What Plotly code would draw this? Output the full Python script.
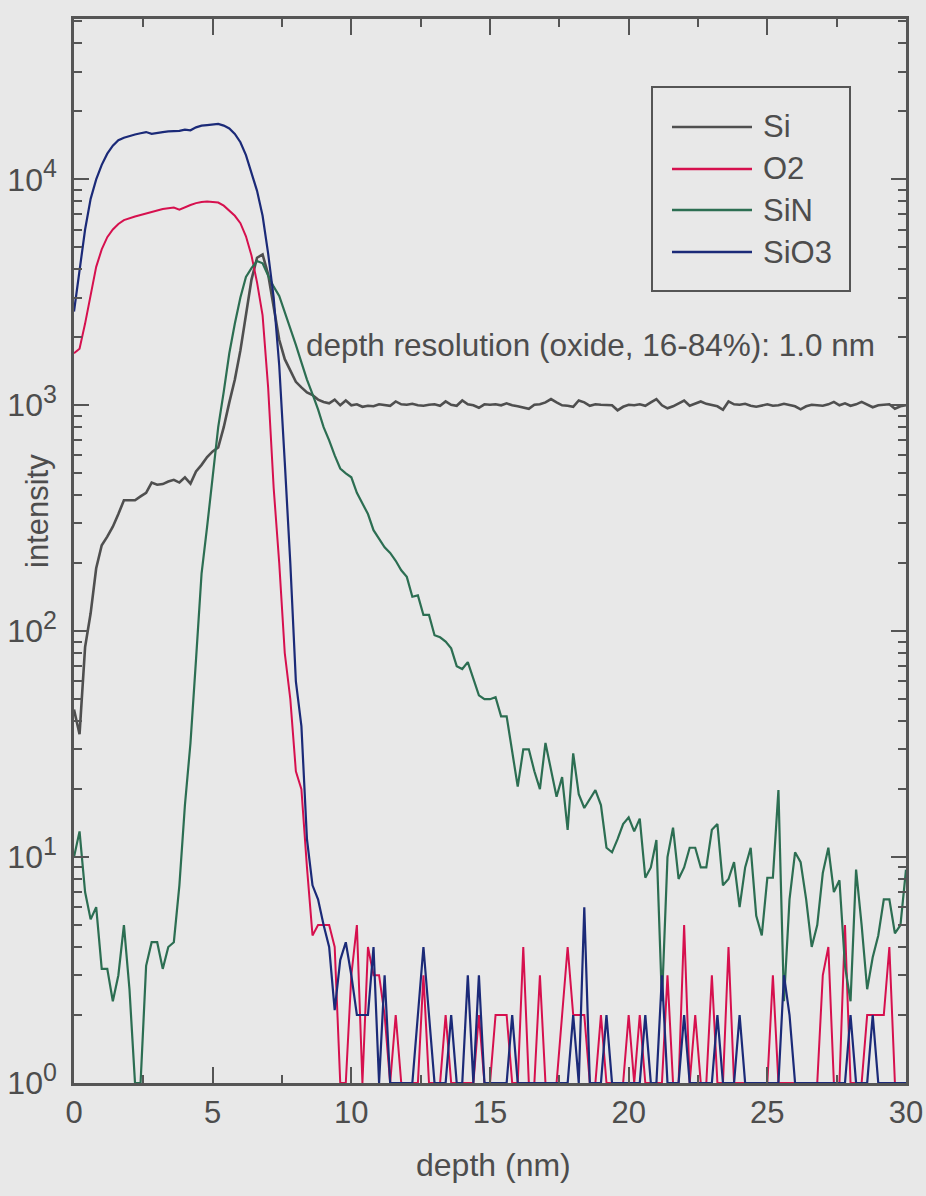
import plotly.graph_objects as go

# depth grid (nm), step 0.2
depth = [round(i * 0.2, 1) for i in range(151)]

si = [45, 35, 85, 120, 190, 240, 262, 290, 330, 380,
      380, 380, 395, 410, 455, 445, 448, 460, 468, 455,
      480, 450, 510, 545, 590, 625, 650, 800, 1030, 1300,
      1750, 2550, 3600, 4500, 4650, 3800, 2700, 1950, 1600, 1430,
      1270, 1200, 1140, 1110, 1060, 1035, 1020, 1060, 1000, 1050,
      1000, 1010, 985, 995, 990, 1010, 1000, 995, 1040, 1010,
      1005, 1015, 1000, 995, 1005, 1010, 995, 1040, 1005, 995,
      1050, 1010, 1000, 975, 1010, 1005, 1010, 1000, 1020, 1000,
      990, 975, 965, 1005, 1010, 1030, 1065, 1030, 1000, 995,
      985, 1050, 1030, 995, 1010, 1005, 1005, 1000, 950, 985,
      1005, 1000, 1010, 995, 1030, 1065, 1000, 970, 990, 1020,
      1050, 995, 1020, 1040, 1015, 1000, 990, 955, 1040, 1010,
      1005, 1015, 995, 985, 1000, 1010, 995, 1000, 1015, 1005,
      990, 960, 990, 1005, 1000, 995, 1010, 1035, 1000, 1020,
      995, 1010, 1035, 1005, 980, 1000, 1005, 1010, 965, 990,
      1000]

o2 = [1700, 1780, 2300, 3100, 4100, 4900, 5550, 6000, 6350, 6600,
      6750, 6850, 6950, 7050, 7200, 7300, 7400, 7450, 7500, 7350,
      7550, 7700, 7850, 7950, 7980, 7950, 7900, 7650, 7300, 6900,
      6400, 5600, 4600, 3500, 2500, 1200, 430, 200, 80, 50,
      24, 20, 9, 4.5, 5, 5, 5, 4, 1, 1,
      3, 5, 1, 4, 3, 3, 2, 1, 2, 1,
      1, 1, 1, 3, 1, 1, 1, 2, 1, 1,
      1, 1, 1, 2, 1, 1, 2, 2, 2, 1,
      1, 4, 1, 1, 3, 1, 1, 1, 2, 4,
      2, 2, 2, 1, 1, 2, 1, 1, 1, 1,
      2, 1, 2, 1, 1, 1, 1, 3, 1, 1,
      5, 1, 2, 1, 1, 3, 1, 1, 4, 1,
      1, 1, 1, 1, 1, 1, 3, 1, 1, 1,
      1, 1, 1, 1, 1, 3, 4, 1, 1, 5,
      1, 1, 1, 2, 2, 2, 2, 4, 1, 1,
      1]

sin = [10, 13, 7, 5.3, 6, 3.2, 3.2, 2.3, 3, 5,
       2.6, 1, 1, 3.3, 4.2, 4.2, 3.2, 4, 4.2, 7.5,
       17, 32, 75, 180, 290, 500, 800, 1150, 1700, 2300,
       3000, 3700, 4050, 4350, 4250, 3750, 3350, 3050, 2600, 2200,
       1850, 1550, 1300, 1120, 960, 800, 700, 600, 525, 500,
       480, 410, 370, 330, 280, 255, 235, 222, 205, 186,
       174, 142, 144, 118, 118, 96, 94, 90, 84, 70,
       68, 73, 62, 52, 50, 50, 51, 42, 42, 30,
       20.5, 30, 30, 24, 20, 32, 24, 18.5, 22.6, 13.2,
       28.8, 19, 16.5, 18, 19.8, 17, 11, 10.5, 12, 14,
       15, 13, 14.8, 8.1, 9, 11.9, 2.3, 10, 13.5, 8,
       9, 11, 11, 9, 9, 13.2, 14, 7.5, 8, 9.5,
       6, 9, 11, 5.5, 4.5, 8.1, 8.1, 19.8, 2.3, 6.5,
       10.5, 9.5, 6.5, 4, 5, 8.5, 11, 7, 7.9, 3.3,
       2.3, 8.8, 5, 2.6, 3.6, 4.5, 6.5, 6.5, 4.6, 5,
       8.8]

sio3 = [2600, 4000, 6000, 8200, 10000, 11600, 13000, 14100, 14900, 15300,
        15600, 15800, 16000, 16200, 15900, 16100, 16200, 16300, 16300, 16400,
        16600, 16500, 17000, 17300, 17400, 17500, 17600, 17300, 16800, 15900,
        14600, 12800, 10800, 8900, 6900, 4700, 3000, 1500, 560, 200,
        60, 38, 12, 7.5, 6.5, 5, 4, 2.1, 3.5, 4.2,
        3, 2, 2, 2, 4, 1, 3, 1, 1, 1,
        1, 1, 2, 4, 2, 1, 1, 1, 2, 1,
        1, 3, 1, 3, 1, 1, 1, 1, 1, 2,
        1, 1, 1, 1, 1, 1, 1, 1, 1, 1,
        2, 1, 6, 1, 1, 1, 2, 1, 1, 1,
        1, 1, 1, 2, 1, 1, 3, 1, 1, 1,
        2, 1, 1, 1, 1, 1, 2, 1, 1, 1,
        2, 1, 1, 1, 1, 1, 1, 1, 3, 2,
        1, 1, 1, 1, 1, 1, 1, 1, 1, 1,
        2, 1, 1, 1, 2, 1, 1, 1, 1, 1,
        1]

series_names = ["Si", "O2", "SiN", "SiO3"]
series_colors = ["#4f4f4f", "#d6104e", "#2c6e52", "#1b2a78"]
series_widths = [2.6, 2.0, 2.2, 2.2]
series_values = [si, o2, sin, sio3]

y_tick_vals = [1, 10, 100, 1000, 10000]
y_exponents = ["0", "1", "2", "3", "4"]
y_tick_text = ["10<sup><span style='font-size:25px'>%s</span></sup>" % e
               for e in y_exponents]
x_tick_vals = [0, 5, 10, 15, 20, 25, 30]

FONT = "Liberation Sans, Arial, sans-serif"
TXT = "#4d4d4d"
AX = "#555555"
BG = "#e8e8e8"

fig = go.Figure()
for name, col, w, vals in zip(series_names, series_colors, series_widths, series_values):
    fig.add_trace(go.Scatter(x=depth, y=vals, mode="lines", name=name,
                             line=dict(color=col, width=w), showlegend=False))

# plot area in pixels
L, R, T, B = 74, 906, 19, 1083
W, H = 926, 1196


def px(x):
    return (x - L) / (R - L)


def py(y):
    return (B - y) / (B - T)


# custom legend
shapes = [dict(type="rect", xref="paper", yref="paper",
               x0=px(652), x1=px(850), y0=py(291), y1=py(87),
               line=dict(color=AX, width=2), fillcolor="rgba(0,0,0,0)")]
annotations = []
leg_rows = [127, 169, 210, 252]
for name, col, yy in zip(series_names, series_colors, leg_rows):
    shapes.append(dict(type="line", xref="paper", yref="paper",
                       x0=px(672), x1=px(752), y0=py(yy), y1=py(yy),
                       line=dict(color=col, width=2.4)))
    annotations.append(dict(text=name, xref="paper", yref="paper",
                            x=px(761), y=py(yy), xanchor="left", yanchor="middle",
                            showarrow=False, font=dict(size=31, color=TXT, family=FONT)))

annotations.append(dict(text="depth resolution (oxide, 16-84%): 1.0 nm",
                        xref="paper", yref="paper", x=px(304), y=py(345),
                        xanchor="left", yanchor="middle", showarrow=False,
                        font=dict(size=31.5, color=TXT, family=FONT)))
annotations.append(dict(text="intensity", xref="paper", yref="paper",
                        x=px(38), y=py(511), xanchor="center", yanchor="middle",
                        textangle=-90, showarrow=False,
                        font=dict(size=31, color=TXT, family=FONT)))
annotations.append(dict(text="depth (nm)", xref="paper", yref="paper",
                        x=px(493), y=py(1165), xanchor="center", yanchor="middle",
                        showarrow=False, font=dict(size=32, color=TXT, family=FONT)))

fig.update_layout(
    width=W, height=H,
    margin=dict(l=L, r=W - R, t=T, b=H - B, autoexpand=False),
    paper_bgcolor=BG, plot_bgcolor=BG,
    shapes=shapes, annotations=annotations,
    showlegend=False,
    font=dict(family=FONT, color=TXT),
)
fig.update_xaxes(
    range=[0, 30], tickvals=x_tick_vals, automargin=False,
    ticks="inside", ticklen=16, tickwidth=2, tickcolor=AX,
    showline=True, linecolor=AX, linewidth=2.5, mirror="allticks",
    showgrid=False, zeroline=False,
    tickfont=dict(size=31, color=TXT, family=FONT),
    minor=dict(dtick=2.5, tick0=0, ticks="inside", ticklen=8, tickwidth=2,
               tickcolor=AX, showgrid=False),
)
fig.update_yaxes(
    type="log", range=[0, 4.71], automargin=False,
    tickvals=y_tick_vals, ticktext=y_tick_text,
    ticks="inside", ticklen=15, tickwidth=2, tickcolor=AX,
    showline=True, linecolor=AX, linewidth=2.5, mirror="allticks",
    showgrid=False, zeroline=False,
    tickfont=dict(size=32, color=TXT, family=FONT),
    ticklabelstandoff=8,
    minor=dict(dtick="D1", ticks="inside", ticklen=8, tickwidth=2,
               tickcolor=AX, showgrid=False),
)

fig.write_html("out.html")
